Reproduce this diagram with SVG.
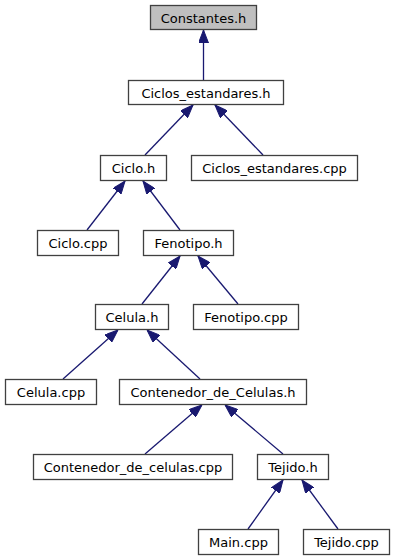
<svg xmlns="http://www.w3.org/2000/svg" width="395" height="560" viewBox="0 0 395 560">
  <defs>
    <style>
      .node rect { fill: #ffffff; stroke: #404040; stroke-width: 1.3; }
      .node.root rect { fill: #bfbfbf; }
      .node text { font-family: "DejaVu Sans", "Liberation Sans", sans-serif; font-size: 13px; fill: #000000; text-anchor: middle; }
      .edge { stroke: #191970; stroke-width: 1.3; fill: none; marker-end: url(#arrow); }
    </style>
    <marker id="arrow" viewBox="0 0 13 10" refX="13" refY="5" markerWidth="13" markerHeight="10" markerUnits="userSpaceOnUse" orient="auto">
      <path d="M0,0 L13,5 L0,10 Z" fill="#191970" stroke="#191970" stroke-width="1"/>
    </marker>
  </defs>
  <rect width="395" height="560" fill="#ffffff"/>

  <!-- include dependency edges: from includer up to included header -->
  <g id="edges">
    <line class="edge" x1="203.5" y1="80" x2="203.5" y2="30"/>
    <line class="edge" x1="145" y1="155" x2="193" y2="105"/>
    <line class="edge" x1="263" y1="155" x2="215" y2="105"/>
    <line class="edge" x1="87" y1="230" x2="125" y2="181"/>
    <line class="edge" x1="180" y1="230" x2="143" y2="181"/>
    <line class="edge" x1="142" y1="304" x2="180" y2="256"/>
    <line class="edge" x1="238" y1="304" x2="198" y2="256"/>
    <line class="edge" x1="63" y1="379" x2="118" y2="330"/>
    <line class="edge" x1="200" y1="379" x2="147" y2="330"/>
    <line class="edge" x1="145" y1="454" x2="202" y2="405"/>
    <line class="edge" x1="283" y1="454" x2="225" y2="405"/>
    <line class="edge" x1="248" y1="529" x2="283" y2="480"/>
    <line class="edge" x1="338" y1="529" x2="302" y2="480"/>
  </g>

  <g id="Constantes_h" class="node root">
    <rect x="150.5" y="5.5" width="106" height="24"/>
    <text x="203.5" y="22.5">Constantes.h</text>
  </g>
  <g id="Ciclos_estandares_h" class="node">
    <rect x="128.5" y="80.5" width="155" height="24"/>
    <text x="206" y="97.5">Ciclos_estandares.h</text>
  </g>
  <g id="Ciclo_h" class="node">
    <rect x="100.5" y="155.5" width="66" height="25"/>
    <text x="133.5" y="172.5">Ciclo.h</text>
  </g>
  <g id="Ciclos_estandares_cpp" class="node">
    <rect x="191.5" y="155.5" width="166" height="25"/>
    <text x="274.5" y="172.5">Ciclos_estandares.cpp</text>
  </g>
  <g id="Ciclo_cpp" class="node">
    <rect x="37.5" y="230.5" width="81" height="25"/>
    <text x="78" y="247.5">Ciclo.cpp</text>
  </g>
  <g id="Fenotipo_h" class="node">
    <rect x="143.5" y="230.5" width="90" height="25"/>
    <text x="188.5" y="247.5">Fenotipo.h</text>
  </g>
  <g id="Celula_h" class="node">
    <rect x="95.5" y="304.5" width="73" height="25"/>
    <text x="132" y="321.5">Celula.h</text>
  </g>
  <g id="Fenotipo_cpp" class="node">
    <rect x="193.5" y="304.5" width="105" height="25"/>
    <text x="246" y="321.5">Fenotipo.cpp</text>
  </g>
  <g id="Celula_cpp" class="node">
    <rect x="5.5" y="379.5" width="91" height="25"/>
    <text x="51" y="396.5">Celula.cpp</text>
  </g>
  <g id="Contenedor_de_Celulas_h" class="node">
    <rect x="119.5" y="379.5" width="187" height="25"/>
    <text x="213" y="396.5">Contenedor_de_Celulas.h</text>
  </g>
  <g id="Contenedor_de_celulas_cpp" class="node">
    <rect x="33.5" y="454.5" width="199" height="25"/>
    <text x="133" y="471.5">Contenedor_de_celulas.cpp</text>
  </g>
  <g id="Tejido_h" class="node">
    <rect x="257.5" y="454.5" width="71" height="25"/>
    <text x="293" y="471.5">Tejido.h</text>
  </g>
  <g id="Main_cpp" class="node">
    <rect x="198.5" y="529.5" width="80" height="25"/>
    <text x="238.5" y="546.5">Main.cpp</text>
  </g>
  <g id="Tejido_cpp" class="node">
    <rect x="303.5" y="529.5" width="86" height="25"/>
    <text x="346.5" y="546.5">Tejido.cpp</text>
  </g>
</svg>
